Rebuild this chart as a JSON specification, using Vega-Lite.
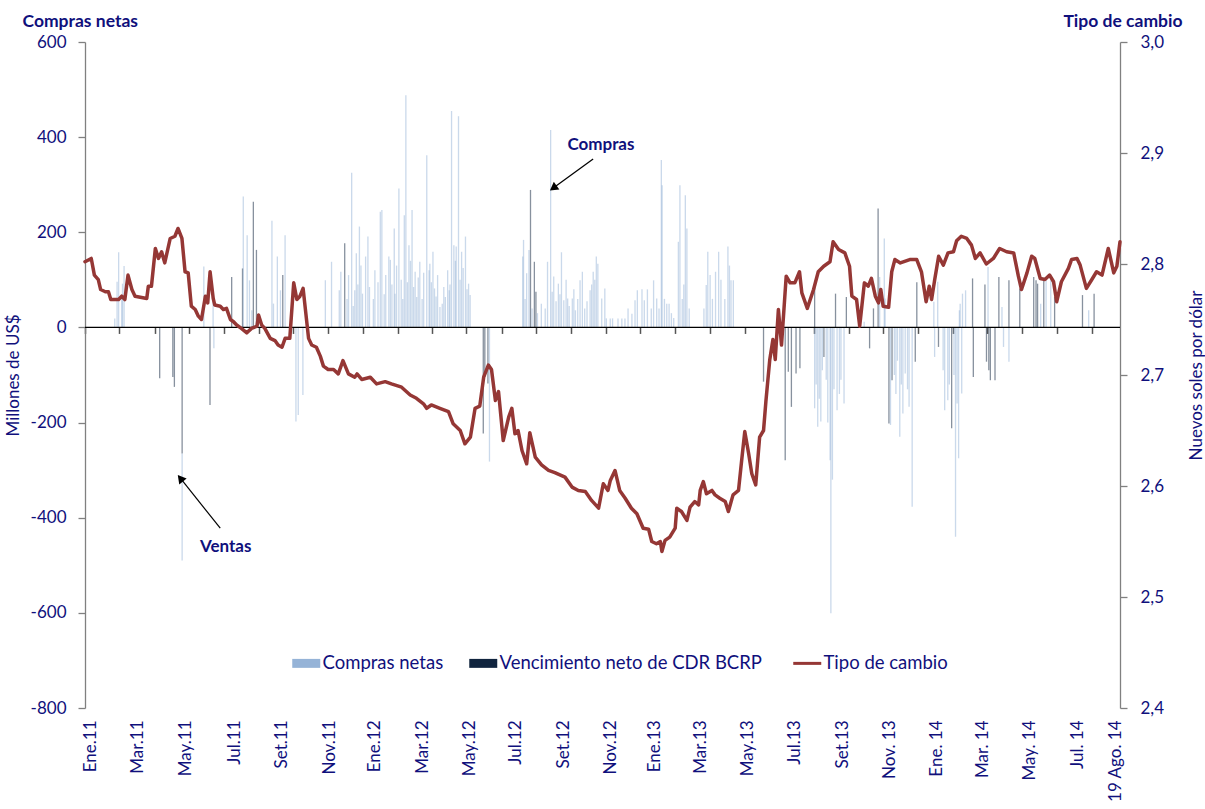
{
"$schema": "https://vega.github.io/schema/vega-lite/v6.json",
"width": 1035, "height": 666,
"autosize": {"type": "none"},
"padding": {"left": 85, "top": 42, "right": 85, "bottom": 101},
"background": "white",
"config": {"font": "Lato", "view": {"stroke": null}, "axis": {"grid": false, "labelFont": "Lato", "titleFont": "Lato"}},
"datasets": {
"rate": [
{"d":"2011-01-03","v":2.802},{"d":"2011-01-11","v":2.805},{"d":"2011-01-15","v":2.790},{"d":"2011-01-20","v":2.786},{"d":"2011-01-23","v":2.777},{"d":"2011-01-29","v":2.775},{"d":"2011-02-02","v":2.775},{"d":"2011-02-05","v":2.768},{"d":"2011-02-15","v":2.768},{"d":"2011-02-19","v":2.771},{"d":"2011-02-23","v":2.768},{"d":"2011-02-27","v":2.790},{"d":"2011-03-04","v":2.777},{"d":"2011-03-08","v":2.771},{"d":"2011-03-23","v":2.769},{"d":"2011-03-25","v":2.780},{"d":"2011-03-29","v":2.780},{"d":"2011-04-03","v":2.814},{"d":"2011-04-07","v":2.805},{"d":"2011-04-11","v":2.811},{"d":"2011-04-15","v":2.801},{"d":"2011-04-22","v":2.823},{"d":"2011-04-28","v":2.825},{"d":"2011-05-02","v":2.832},{"d":"2011-05-07","v":2.823},{"d":"2011-05-11","v":2.793},{"d":"2011-05-15","v":2.792},{"d":"2011-05-19","v":2.762},{"d":"2011-05-24","v":2.759},{"d":"2011-05-28","v":2.753},{"d":"2011-06-01","v":2.750},{"d":"2011-06-06","v":2.771},{"d":"2011-06-09","v":2.765},{"d":"2011-06-12","v":2.793},{"d":"2011-06-16","v":2.769},{"d":"2011-06-18","v":2.763},{"d":"2011-06-25","v":2.762},{"d":"2011-06-29","v":2.759},{"d":"2011-07-03","v":2.760},{"d":"2011-07-08","v":2.750},{"d":"2011-07-12","v":2.748},{"d":"2011-07-16","v":2.745},{"d":"2011-07-22","v":2.742},{"d":"2011-07-29","v":2.738},{"d":"2011-08-04","v":2.742},{"d":"2011-08-11","v":2.744},{"d":"2011-08-13","v":2.754},{"d":"2011-08-17","v":2.745},{"d":"2011-08-21","v":2.742},{"d":"2011-08-28","v":2.733},{"d":"2011-09-03","v":2.731},{"d":"2011-09-07","v":2.727},{"d":"2011-09-12","v":2.725},{"d":"2011-09-16","v":2.733},{"d":"2011-09-22","v":2.733},{"d":"2011-09-27","v":2.783},{"d":"2011-10-01","v":2.768},{"d":"2011-10-05","v":2.771},{"d":"2011-10-09","v":2.778},{"d":"2011-10-16","v":2.733},{"d":"2011-10-20","v":2.727},{"d":"2011-10-26","v":2.725},{"d":"2011-10-31","v":2.717},{"d":"2011-11-04","v":2.708},{"d":"2011-11-10","v":2.705},{"d":"2011-11-17","v":2.705},{"d":"2011-11-23","v":2.701},{"d":"2011-11-29","v":2.713},{"d":"2011-12-06","v":2.701},{"d":"2011-12-14","v":2.698},{"d":"2011-12-17","v":2.701},{"d":"2011-12-23","v":2.696},{"d":"2012-01-03","v":2.698},{"d":"2012-01-11","v":2.692},{"d":"2012-01-22","v":2.694},{"d":"2012-01-30","v":2.692},{"d":"2012-02-12","v":2.689},{"d":"2012-02-23","v":2.682},{"d":"2012-03-02","v":2.679},{"d":"2012-03-11","v":2.674},{"d":"2012-03-15","v":2.670},{"d":"2012-03-21","v":2.673},{"d":"2012-04-01","v":2.670},{"d":"2012-04-12","v":2.667},{"d":"2012-04-18","v":2.656},{"d":"2012-04-27","v":2.650},{"d":"2012-05-03","v":2.638},{"d":"2012-05-10","v":2.644},{"d":"2012-05-16","v":2.670},{"d":"2012-05-22","v":2.672},{"d":"2012-05-27","v":2.698},{"d":"2012-06-02","v":2.709},{"d":"2012-06-06","v":2.705},{"d":"2012-06-11","v":2.677},{"d":"2012-06-15","v":2.685},{"d":"2012-06-21","v":2.641},{"d":"2012-06-28","v":2.662},{"d":"2012-07-02","v":2.670},{"d":"2012-07-06","v":2.647},{"d":"2012-07-10","v":2.650},{"d":"2012-07-15","v":2.632},{"d":"2012-07-21","v":2.620},{"d":"2012-07-25","v":2.648},{"d":"2012-08-01","v":2.626},{"d":"2012-08-09","v":2.619},{"d":"2012-08-18","v":2.614},{"d":"2012-08-26","v":2.612},{"d":"2012-09-08","v":2.608},{"d":"2012-09-17","v":2.599},{"d":"2012-09-25","v":2.596},{"d":"2012-10-04","v":2.595},{"d":"2012-10-12","v":2.587},{"d":"2012-10-21","v":2.580},{"d":"2012-10-27","v":2.602},{"d":"2012-11-02","v":2.596},{"d":"2012-11-05","v":2.605},{"d":"2012-11-11","v":2.614},{"d":"2012-11-17","v":2.596},{"d":"2012-11-24","v":2.589},{"d":"2012-12-02","v":2.580},{"d":"2012-12-09","v":2.575},{"d":"2012-12-17","v":2.562},{"d":"2012-12-24","v":2.561},{"d":"2012-12-28","v":2.550},{"d":"2013-01-03","v":2.548},{"d":"2013-01-08","v":2.550},{"d":"2013-01-10","v":2.541},{"d":"2013-01-14","v":2.551},{"d":"2013-01-20","v":2.554},{"d":"2013-01-27","v":2.562},{"d":"2013-01-29","v":2.580},{"d":"2013-02-04","v":2.577},{"d":"2013-02-11","v":2.569},{"d":"2013-02-15","v":2.581},{"d":"2013-02-21","v":2.586},{"d":"2013-02-26","v":2.583},{"d":"2013-02-28","v":2.596},{"d":"2013-03-04","v":2.604},{"d":"2013-03-08","v":2.593},{"d":"2013-03-15","v":2.596},{"d":"2013-03-19","v":2.592},{"d":"2013-03-25","v":2.589},{"d":"2013-04-01","v":2.586},{"d":"2013-04-05","v":2.577},{"d":"2013-04-11","v":2.592},{"d":"2013-04-18","v":2.596},{"d":"2013-04-22","v":2.623},{"d":"2013-04-26","v":2.649},{"d":"2013-05-01","v":2.629},{"d":"2013-05-05","v":2.611},{"d":"2013-05-10","v":2.601},{"d":"2013-05-15","v":2.644},{"d":"2013-05-20","v":2.650},{"d":"2013-05-23","v":2.676},{"d":"2013-05-28","v":2.714},{"d":"2013-06-01","v":2.732},{"d":"2013-06-04","v":2.714},{"d":"2013-06-08","v":2.759},{"d":"2013-06-12","v":2.727},{"d":"2013-06-18","v":2.789},{"d":"2013-06-23","v":2.783},{"d":"2013-06-29","v":2.783},{"d":"2013-07-05","v":2.793},{"d":"2013-07-08","v":2.774},{"d":"2013-07-15","v":2.760},{"d":"2013-07-23","v":2.777},{"d":"2013-07-29","v":2.793},{"d":"2013-08-05","v":2.798},{"d":"2013-08-13","v":2.802},{"d":"2013-08-17","v":2.820},{"d":"2013-08-24","v":2.813},{"d":"2013-09-01","v":2.810},{"d":"2013-09-07","v":2.798},{"d":"2013-09-10","v":2.771},{"d":"2013-09-16","v":2.768},{"d":"2013-09-20","v":2.744},{"d":"2013-09-26","v":2.783},{"d":"2013-10-01","v":2.780},{"d":"2013-10-05","v":2.787},{"d":"2013-10-10","v":2.771},{"d":"2013-10-14","v":2.765},{"d":"2013-10-17","v":2.777},{"d":"2013-10-20","v":2.762},{"d":"2013-10-27","v":2.761},{"d":"2013-10-31","v":2.793},{"d":"2013-11-04","v":2.804},{"d":"2013-11-11","v":2.801},{"d":"2013-11-23","v":2.804},{"d":"2013-12-02","v":2.804},{"d":"2013-12-08","v":2.793},{"d":"2013-12-14","v":2.766},{"d":"2013-12-18","v":2.780},{"d":"2013-12-21","v":2.768},{"d":"2013-12-25","v":2.786},{"d":"2013-12-30","v":2.807},{"d":"2014-01-05","v":2.799},{"d":"2014-01-11","v":2.810},{"d":"2014-01-18","v":2.811},{"d":"2014-01-22","v":2.821},{"d":"2014-01-28","v":2.825},{"d":"2014-02-04","v":2.823},{"d":"2014-02-10","v":2.817},{"d":"2014-02-15","v":2.805},{"d":"2014-02-21","v":2.810},{"d":"2014-03-01","v":2.800},{"d":"2014-03-10","v":2.805},{"d":"2014-03-18","v":2.814},{"d":"2014-03-27","v":2.811},{"d":"2014-04-05","v":2.810},{"d":"2014-04-11","v":2.789},{"d":"2014-04-15","v":2.777},{"d":"2014-04-22","v":2.792},{"d":"2014-04-28","v":2.807},{"d":"2014-05-02","v":2.805},{"d":"2014-05-09","v":2.787},{"d":"2014-05-15","v":2.786},{"d":"2014-05-21","v":2.790},{"d":"2014-05-26","v":2.784},{"d":"2014-05-30","v":2.766},{"d":"2014-06-05","v":2.784},{"d":"2014-06-14","v":2.796},{"d":"2014-06-18","v":2.804},{"d":"2014-06-25","v":2.805},{"d":"2014-06-29","v":2.799},{"d":"2014-07-07","v":2.778},{"d":"2014-07-14","v":2.786},{"d":"2014-07-20","v":2.793},{"d":"2014-07-27","v":2.790},{"d":"2014-08-04","v":2.814},{"d":"2014-08-11","v":2.792},{"d":"2014-08-15","v":2.798},{"d":"2014-08-19","v":2.820}
],
"bars": [
{"d":"2011-02-04","s":"Compras netas","v":19},{"d":"2011-02-07","s":"Compras netas","v":96},{"d":"2011-02-09","s":"Compras netas","v":158},{"d":"2011-02-13","s":"Compras netas","v":64},{"d":"2011-02-14","s":"Compras netas","v":92},{"d":"2011-02-16","s":"Compras netas","v":129},
{"d":"2011-04-03","s":"Vencimiento neto de CDR BCRP","v":-107},{"d":"2011-04-20","s":"Vencimiento neto de CDR BCRP","v":-104},{"d":"2011-04-22","s":"Vencimiento neto de CDR BCRP","v":-125},{"d":"2011-05-02","s":"Vencimiento neto de CDR BCRP","v":-265},{"d":"2011-05-02","s":"Compras netas","v":-225},
{"d":"2011-05-30","s":"Compras netas","v":128},{"d":"2011-06-07","s":"Vencimiento neto de CDR BCRP","v":-163},{"d":"2011-06-11","s":"Compras netas","v":78},{"d":"2011-06-12","s":"Compras netas","v":-44},
{"d":"2011-07-05","s":"Vencimiento neto de CDR BCRP","v":106},{"d":"2011-07-19","s":"Vencimiento neto de CDR BCRP","v":124},{"d":"2011-07-20","s":"Compras netas","v":275},{"d":"2011-07-25","s":"Compras netas","v":194},{"d":"2011-07-28","s":"Compras netas","v":99},{"d":"2011-07-31","s":"Compras netas","v":36},{"d":"2011-08-02","s":"Vencimiento neto de CDR BCRP","v":264},{"d":"2011-08-06","s":"Vencimiento neto de CDR BCRP","v":163},{"d":"2011-08-12","s":"Compras netas","v":15},{"d":"2011-08-26","s":"Compras netas","v":224},{"d":"2011-08-28","s":"Compras netas","v":50},{"d":"2011-09-02","s":"Compras netas","v":149},{"d":"2011-09-06","s":"Compras netas","v":78},{"d":"2011-09-09","s":"Vencimiento neto de CDR BCRP","v":110},{"d":"2011-09-12","s":"Compras netas","v":194},
{"d":"2011-09-26","s":"Compras netas","v":-198},{"d":"2011-09-29","s":"Compras netas","v":-184},{"d":"2011-10-05","s":"Compras netas","v":-142},
{"d":"2011-11-03","s":"Compras netas","v":99},{"d":"2011-11-11","s":"Compras netas","v":138},{"d":"2011-11-21","s":"Compras netas","v":78},{"d":"2011-11-23","s":"Compras netas","v":117},{"d":"2011-11-28","s":"Vencimiento neto de CDR BCRP","v":177},{"d":"2011-12-01","s":"Compras netas","v":60},{"d":"2011-12-03","s":"Compras netas","v":110},{"d":"2011-12-07","s":"Compras netas","v":325},{"d":"2011-12-09","s":"Compras netas","v":45},{"d":"2011-12-11","s":"Compras netas","v":78},{"d":"2011-12-13","s":"Compras netas","v":156},{"d":"2011-12-15","s":"Compras netas","v":90},{"d":"2011-12-17","s":"Compras netas","v":212},{"d":"2011-12-19","s":"Compras netas","v":130},{"d":"2011-12-21","s":"Compras netas","v":71},{"d":"2011-12-25","s":"Compras netas","v":149},{"d":"2011-12-28","s":"Compras netas","v":191},{"d":"2011-12-30","s":"Compras netas","v":85},
{"d":"2012-01-04","s":"Compras netas","v":60},{"d":"2012-01-06","s":"Compras netas","v":120},{"d":"2012-01-10","s":"Compras netas","v":95},{"d":"2012-01-13","s":"Compras netas","v":243},{"d":"2012-01-15","s":"Compras netas","v":247},{"d":"2012-01-18","s":"Compras netas","v":70},{"d":"2012-01-20","s":"Compras netas","v":110},{"d":"2012-01-24","s":"Compras netas","v":149},{"d":"2012-01-26","s":"Compras netas","v":142},{"d":"2012-01-28","s":"Compras netas","v":90},{"d":"2012-01-31","s":"Compras netas","v":208},{"d":"2012-02-01","s":"Compras netas","v":71},{"d":"2012-02-03","s":"Compras netas","v":130},{"d":"2012-02-06","s":"Compras netas","v":292},{"d":"2012-02-09","s":"Compras netas","v":100},{"d":"2012-02-11","s":"Compras netas","v":60},{"d":"2012-02-13","s":"Compras netas","v":236},{"d":"2012-02-15","s":"Compras netas","v":488},{"d":"2012-02-17","s":"Compras netas","v":95},{"d":"2012-02-19","s":"Compras netas","v":173},{"d":"2012-02-21","s":"Compras netas","v":140},{"d":"2012-02-23","s":"Compras netas","v":247},{"d":"2012-02-25","s":"Compras netas","v":85},{"d":"2012-02-27","s":"Compras netas","v":117},{"d":"2012-02-29","s":"Compras netas","v":64},{"d":"2012-03-02","s":"Compras netas","v":105},{"d":"2012-03-04","s":"Compras netas","v":138},{"d":"2012-03-07","s":"Compras netas","v":60},{"d":"2012-03-09","s":"Compras netas","v":115},{"d":"2012-03-13","s":"Compras netas","v":362},{"d":"2012-03-16","s":"Compras netas","v":120},{"d":"2012-03-17","s":"Compras netas","v":134},{"d":"2012-03-19","s":"Compras netas","v":95},{"d":"2012-03-21","s":"Compras netas","v":159},{"d":"2012-03-23","s":"Compras netas","v":82},{"d":"2012-03-25","s":"Compras netas","v":65},{"d":"2012-03-27","s":"Compras netas","v":110},{"d":"2012-03-30","s":"Compras netas","v":43},{"d":"2012-04-02","s":"Compras netas","v":50},{"d":"2012-04-04","s":"Compras netas","v":85},{"d":"2012-04-06","s":"Compras netas","v":64},{"d":"2012-04-09","s":"Compras netas","v":120},{"d":"2012-04-11","s":"Compras netas","v":78},{"d":"2012-04-12","s":"Compras netas","v":90},{"d":"2012-04-14","s":"Compras netas","v":455},{"d":"2012-04-17","s":"Compras netas","v":173},{"d":"2012-04-19","s":"Compras netas","v":140},{"d":"2012-04-20","s":"Compras netas","v":170},{"d":"2012-04-23","s":"Compras netas","v":444},{"d":"2012-04-25","s":"Compras netas","v":100},{"d":"2012-04-27","s":"Compras netas","v":159},{"d":"2012-04-29","s":"Compras netas","v":125},{"d":"2012-05-02","s":"Compras netas","v":191},{"d":"2012-05-04","s":"Compras netas","v":80},{"d":"2012-05-06","s":"Compras netas","v":92},{"d":"2012-05-08","s":"Compras netas","v":68},
{"d":"2012-05-25","s":"Vencimiento neto de CDR BCRP","v":-223},{"d":"2012-05-27","s":"Vencimiento neto de CDR BCRP","v":-104},{"d":"2012-05-31","s":"Vencimiento neto de CDR BCRP","v":-118},{"d":"2012-06-02","s":"Compras netas","v":-282},
{"d":"2012-07-15","s":"Compras netas","v":149},{"d":"2012-07-16","s":"Compras netas","v":184},{"d":"2012-07-18","s":"Compras netas","v":60},{"d":"2012-07-20","s":"Compras netas","v":114},{"d":"2012-07-23","s":"Compras netas","v":163},{"d":"2012-07-25","s":"Vencimiento neto de CDR BCRP","v":289},{"d":"2012-07-27","s":"Compras netas","v":40},{"d":"2012-07-30","s":"Vencimiento neto de CDR BCRP","v":138},{"d":"2012-08-01","s":"Vencimiento neto de CDR BCRP","v":75},{"d":"2012-08-03","s":"Compras netas","v":30},{"d":"2012-08-08","s":"Compras netas","v":50},{"d":"2012-08-13","s":"Compras netas","v":40},{"d":"2012-08-16","s":"Compras netas","v":138},{"d":"2012-08-20","s":"Compras netas","v":415},{"d":"2012-08-22","s":"Compras netas","v":75},{"d":"2012-08-24","s":"Compras netas","v":107},{"d":"2012-08-27","s":"Compras netas","v":55},{"d":"2012-08-30","s":"Compras netas","v":92},{"d":"2012-09-01","s":"Compras netas","v":70},{"d":"2012-09-03","s":"Compras netas","v":158},{"d":"2012-09-06","s":"Compras netas","v":57},{"d":"2012-09-09","s":"Compras netas","v":100},{"d":"2012-09-11","s":"Compras netas","v":61},{"d":"2012-09-13","s":"Compras netas","v":45},{"d":"2012-09-17","s":"Compras netas","v":61},{"d":"2012-09-19","s":"Compras netas","v":80},{"d":"2012-09-21","s":"Compras netas","v":36},{"d":"2012-09-24","s":"Compras netas","v":60},{"d":"2012-09-27","s":"Compras netas","v":99},{"d":"2012-09-30","s":"Compras netas","v":117},{"d":"2012-10-03","s":"Compras netas","v":40},{"d":"2012-10-06","s":"Compras netas","v":55},{"d":"2012-10-10","s":"Compras netas","v":78},{"d":"2012-10-12","s":"Compras netas","v":90},{"d":"2012-10-14","s":"Compras netas","v":117},{"d":"2012-10-16","s":"Compras netas","v":100},{"d":"2012-10-18","s":"Compras netas","v":149},{"d":"2012-10-20","s":"Compras netas","v":134},{"d":"2012-10-25","s":"Compras netas","v":61},{"d":"2012-10-29","s":"Compras netas","v":82},{"d":"2012-10-31","s":"Compras netas","v":19},{"d":"2012-11-05","s":"Compras netas","v":19},{"d":"2012-11-08","s":"Compras netas","v":19},{"d":"2012-11-15","s":"Compras netas","v":19},{"d":"2012-11-20","s":"Compras netas","v":19},{"d":"2012-11-24","s":"Compras netas","v":19},{"d":"2012-11-28","s":"Compras netas","v":40},{"d":"2012-12-03","s":"Compras netas","v":29},{"d":"2012-12-07","s":"Compras netas","v":57},{"d":"2012-12-10","s":"Compras netas","v":78},{"d":"2012-12-16","s":"Compras netas","v":80},{"d":"2012-12-19","s":"Compras netas","v":57},{"d":"2012-12-23","s":"Compras netas","v":80},{"d":"2012-12-28","s":"Compras netas","v":40},{"d":"2012-12-31","s":"Compras netas","v":99},{"d":"2013-01-04","s":"Compras netas","v":61},{"d":"2013-01-07","s":"Compras netas","v":40},{"d":"2013-01-10","s":"Compras netas","v":352},{"d":"2013-01-11","s":"Compras netas","v":299},{"d":"2013-01-14","s":"Compras netas","v":60},{"d":"2013-01-17","s":"Compras netas","v":50},{"d":"2013-01-20","s":"Compras netas","v":50},{"d":"2013-01-23","s":"Compras netas","v":30},{"d":"2013-01-26","s":"Compras netas","v":20},{"d":"2013-02-01","s":"Compras netas","v":180},{"d":"2013-02-03","s":"Compras netas","v":299},{"d":"2013-02-06","s":"Compras netas","v":60},{"d":"2013-02-08","s":"Compras netas","v":90},{"d":"2013-02-10","s":"Compras netas","v":278},{"d":"2013-02-12","s":"Compras netas","v":208},{"d":"2013-02-15","s":"Compras netas","v":40},{"d":"2013-03-06","s":"Compras netas","v":40},{"d":"2013-03-09","s":"Compras netas","v":89},{"d":"2013-03-11","s":"Compras netas","v":159},{"d":"2013-03-14","s":"Compras netas","v":110},{"d":"2013-03-17","s":"Compras netas","v":60},{"d":"2013-03-21","s":"Compras netas","v":117},{"d":"2013-03-25","s":"Compras netas","v":159},{"d":"2013-03-28","s":"Compras netas","v":100},{"d":"2013-04-02","s":"Compras netas","v":60},{"d":"2013-04-06","s":"Compras netas","v":170},{"d":"2013-04-08","s":"Compras netas","v":130},{"d":"2013-04-10","s":"Compras netas","v":99},{"d":"2013-04-13","s":"Compras netas","v":99},
{"d":"2013-05-22","s":"Vencimiento neto de CDR BCRP","v":-114},{"d":"2013-06-19","s":"Vencimiento neto de CDR BCRP","v":-279},{"d":"2013-06-23","s":"Vencimiento neto de CDR BCRP","v":-93},{"d":"2013-06-27","s":"Vencimiento neto de CDR BCRP","v":-167},{"d":"2013-07-03","s":"Vencimiento neto de CDR BCRP","v":-97},{"d":"2013-07-08","s":"Vencimiento neto de CDR BCRP","v":-86},{"d":"2013-07-27","s":"Compras netas","v":-170},{"d":"2013-07-27","s":"Vencimiento neto de CDR BCRP","v":87},{"d":"2013-07-29","s":"Compras netas","v":-120},{"d":"2013-07-31","s":"Compras netas","v":-209},{"d":"2013-08-02","s":"Compras netas","v":-150},{"d":"2013-08-04","s":"Compras netas","v":-198},{"d":"2013-08-06","s":"Compras netas","v":-90},{"d":"2013-08-08","s":"Vencimiento neto de CDR BCRP","v":-62},{"d":"2013-08-11","s":"Compras netas","v":-110},{"d":"2013-08-13","s":"Compras netas","v":-200},{"d":"2013-08-16","s":"Compras netas","v":-279},{"d":"2013-08-17","s":"Compras netas","v":-601},{"d":"2013-08-19","s":"Compras netas","v":-320},{"d":"2013-08-21","s":"Compras netas","v":-130},{"d":"2013-08-23","s":"Vencimiento neto de CDR BCRP","v":71},{"d":"2013-08-25","s":"Compras netas","v":-174},{"d":"2013-08-28","s":"Compras netas","v":-140},{"d":"2013-08-30","s":"Compras netas","v":-110},{"d":"2013-09-03","s":"Compras netas","v":-160},{"d":"2013-09-06","s":"Vencimiento neto de CDR BCRP","v":64},{"d":"2013-09-29","s":"Compras netas","v":12},{"d":"2013-10-06","s":"Vencimiento neto de CDR BCRP","v":-44},{"d":"2013-10-11","s":"Vencimiento neto de CDR BCRP","v":40},{"d":"2013-10-17","s":"Vencimiento neto de CDR BCRP","v":250},{"d":"2013-10-19","s":"Compras netas","v":106},{"d":"2013-10-25","s":"Compras netas","v":187},{"d":"2013-10-26","s":"Compras netas","v":61},{"d":"2013-10-31","s":"Vencimiento neto de CDR BCRP","v":-202},{"d":"2013-11-02","s":"Compras netas","v":-205},{"d":"2013-11-04","s":"Vencimiento neto de CDR BCRP","v":-111},{"d":"2013-11-07","s":"Compras netas","v":-100},{"d":"2013-11-09","s":"Compras netas","v":-140},{"d":"2013-11-11","s":"Compras netas","v":-70},{"d":"2013-11-14","s":"Compras netas","v":-230},{"d":"2013-11-16","s":"Compras netas","v":-120},{"d":"2013-11-18","s":"Compras netas","v":-181},{"d":"2013-11-21","s":"Compras netas","v":-97},{"d":"2013-11-24","s":"Compras netas","v":-130},{"d":"2013-11-26","s":"Compras netas","v":-167},{"d":"2013-11-30","s":"Compras netas","v":-377},{"d":"2013-12-04","s":"Vencimiento neto de CDR BCRP","v":-72},{"d":"2013-12-06","s":"Vencimiento neto de CDR BCRP","v":95},{"d":"2013-12-28","s":"Compras netas","v":54},{"d":"2013-12-29","s":"Compras netas","v":-62},{"d":"2014-01-02","s":"Compras netas","v":96},{"d":"2014-01-03","s":"Vencimiento neto de CDR BCRP","v":-41},{"d":"2014-01-09","s":"Compras netas","v":-90},{"d":"2014-01-11","s":"Compras netas","v":-174},{"d":"2014-01-15","s":"Compras netas","v":-153},{"d":"2014-01-17","s":"Compras netas","v":-120},{"d":"2014-01-20","s":"Vencimiento neto de CDR BCRP","v":-212},{"d":"2014-01-23","s":"Compras netas","v":-100},{"d":"2014-01-25","s":"Compras netas","v":-440},{"d":"2014-01-27","s":"Compras netas","v":-160},{"d":"2014-01-29","s":"Compras netas","v":-275},{"d":"2014-01-30","s":"Compras netas","v":36},{"d":"2014-01-31","s":"Compras netas","v":50},{"d":"2014-02-02","s":"Compras netas","v":-139},{"d":"2014-02-03","s":"Compras netas","v":71},{"d":"2014-02-07","s":"Compras netas","v":78},{"d":"2014-02-16","s":"Vencimiento neto de CDR BCRP","v":103},{"d":"2014-02-17","s":"Vencimiento neto de CDR BCRP","v":-104},{"d":"2014-03-04","s":"Vencimiento neto de CDR BCRP","v":90},{"d":"2014-03-06","s":"Vencimiento neto de CDR BCRP","v":-72},{"d":"2014-03-08","s":"Compras netas","v":127},{"d":"2014-03-09","s":"Vencimiento neto de CDR BCRP","v":-90},{"d":"2014-03-11","s":"Vencimiento neto de CDR BCRP","v":-111},{"d":"2014-03-17","s":"Vencimiento neto de CDR BCRP","v":-111},{"d":"2014-03-22","s":"Vencimiento neto de CDR BCRP","v":106},{"d":"2014-03-26","s":"Compras netas","v":43},{"d":"2014-03-28","s":"Compras netas","v":-41},{"d":"2014-04-04","s":"Vencimiento neto de CDR BCRP","v":99},{"d":"2014-04-04","s":"Compras netas","v":-72},{"d":"2014-04-18","s":"Vencimiento neto de CDR BCRP","v":82},{"d":"2014-05-06","s":"Vencimiento neto de CDR BCRP","v":106},{"d":"2014-05-09","s":"Vencimiento neto de CDR BCRP","v":99},{"d":"2014-05-11","s":"Vencimiento neto de CDR BCRP","v":92},{"d":"2014-05-15","s":"Compras netas","v":50},{"d":"2014-05-19","s":"Vencimiento neto de CDR BCRP","v":99},{"d":"2014-05-22","s":"Compras netas","v":99},{"d":"2014-05-28","s":"Compras netas","v":99},{"d":"2014-06-02","s":"Vencimiento neto de CDR BCRP","v":64},{"d":"2014-07-08","s":"Vencimiento neto de CDR BCRP","v":68},{"d":"2014-07-16","s":"Compras netas","v":36},{"d":"2014-07-23","s":"Vencimiento neto de CDR BCRP","v":71}
],
"notes": [{"t":"Compras","d":"2012-10-24","v":383},{"t":"Ventas","d":"2011-07-02","v":-461}],
"arrows": [{"t":"Compras","d":"2012-10-14","v":354,"d2":"2012-08-24","v2":293},{"t":"Ventas","d":"2011-06-25","v":-422,"d2":"2011-05-05","v2":-317}]
},
"layer": [
{
"data": {"name": "bars"},
"mark": {"type": "bar", "size": 1.3, "opacity": 0.5},
"encoding": {
"x": {"field": "d", "type": "temporal", "scale": {"domain": [{"year":2011,"month":1,"date":3},{"year":2014,"month":8,"date":19}]},
 "axis": {"orient": "bottom", "title": null, "ticks": false, "domain": false, "grid": false, "labelAngle": 270, "labelAlign": "right", "labelBaseline": "middle", "labelPadding": 12, "labelFontSize": 17, "labelColor": "#10107c", "labelOverlap": false, "labelFlush": false, "labelBound": false,
 "values": [{"year":2011,"month":1,"date":3},{"year":2011,"month":3,"date":5},{"year":2011,"month":5,"date":7},{"year":2011,"month":7,"date":9},{"year":2011,"month":9,"date":7},{"year":2011,"month":11,"date":8},{"year":2012,"month":1,"date":5},{"year":2012,"month":3,"date":7},{"year":2012,"month":5,"date":7},{"year":2012,"month":7,"date":6},{"year":2012,"month":9,"date":6},{"year":2012,"month":11,"date":5},{"year":2013,"month":1,"date":1},{"year":2013,"month":3,"date":1},{"year":2013,"month":5,"date":1},{"year":2013,"month":7,"date":1},{"year":2013,"month":9,"date":1},{"year":2013,"month":11,"date":1},{"year":2014,"month":1,"date":1},{"year":2014,"month":3,"date":1},{"year":2014,"month":5,"date":1},{"year":2014,"month":7,"date":2},{"year":2014,"month":8,"date":19}],
 "labelExpr": "timeFormat(datum.value, '%m-%d') == '08-19' ? '19 Ago. 14' : ['Ene','Feb','Mar','Abr','May','Jun','Jul','Ago','Set','Oct','Nov','Dic'][month(datum.value)] + (datum.value >= datetime(2013, 9, 15) ? '. ' : '.') + timeFormat(datum.value, '%y')"}},
"y": {"field": "v", "type": "quantitative", "stack": "zero", "scale": {"domain": [-800, 600], "nice": false},
 "axis": {"orient": "left", "title": "Millones de US$", "values": [-800,-600,-400,-200,0,200,400,600], "labelExpr": "'' + datum.value", "domainColor": "#808080", "domainWidth": 1.3, "tickColor": "#808080", "tickSize": 7, "tickWidth": 1.3, "labelFontSize": 17, "labelColor": "#10107c", "labelPadding": 12, "titleFontSize": 17, "titleFontWeight": "normal", "titleColor": "#10107c", "titlePadding": 8, "grid": false}},
"color": {"field": "s", "type": "nominal",
 "scale": {"domain": ["Compras netas", "Vencimiento neto de CDR BCRP", "Tipo de cambio"], "range": ["#95b3d7", "#10243e", "#953735"]},
 "legend": {"orient": "none", "legendX": 212, "legendY": 612, "direction": "horizontal", "title": null, "labelFont": "Lato", "labelFontSize": 18.5, "labelColor": "#10107c", "labelOffset": 7, "columnPadding": 25, "symbolSize": 784, "padding": 0, "labelLimit": 400,
  "symbolType": {"expr": "datum.value === 'Tipo de cambio' ? 'M-1,0H1' : 'M-1,-0.32H1V0.32H-1Z'"},
  "symbolStrokeWidth": {"expr": "datum.value === 'Tipo de cambio' ? 3 : 0"},
  "symbolStrokeColor": {"expr": "scale('color', datum.value)"},
  "symbolFillColor": {"expr": "scale('color', datum.value)"},
  "symbolOpacity": 1}},
"order": {"field": "s", "sort": "descending"}
}
},
{
"layer": [
 {"data": {"name": "arrows"}, "mark": {"type": "rule", "color": "black", "strokeWidth": 1.2},
  "encoding": {"x": {"field": "d", "type": "temporal", "title": null}, "x2": {"field": "d2"}, "y": {"field": "v", "type": "quantitative", "title": null}, "y2": {"field": "v2"}}},
 {"data": {"name": "arrows"}, "transform": [{"filter": "datum.t == 'Compras'"}], "mark": {"type": "point", "shape": "triangle-up", "filled": true, "color": "black", "opacity": 1, "size": 90, "angle": 234},
  "encoding": {"x": {"field": "d2", "type": "temporal", "title": null}, "y": {"field": "v2", "type": "quantitative", "title": null}}},
 {"data": {"name": "arrows"}, "transform": [{"filter": "datum.t == 'Ventas'"}], "mark": {"type": "point", "shape": "triangle-up", "filled": true, "color": "black", "opacity": 1, "size": 90, "angle": 321},
  "encoding": {"x": {"field": "d2", "type": "temporal", "title": null}, "y": {"field": "v2", "type": "quantitative", "title": null}}},
 {"data": {"name": "notes"}, "mark": {"type": "text", "font": "Lato", "fontSize": 17, "fontWeight": "bold", "color": "#10107c"},
  "encoding": {"x": {"field": "d", "type": "temporal", "title": null}, "y": {"field": "v", "type": "quantitative", "title": null}, "text": {"field": "t"}}}
],
"encoding": {
 "x": {"scale": {"domain": [{"year":2011,"month":1,"date":3},{"year":2014,"month":8,"date":19}]}, "axis": {"orient": "top", "labels": false, "ticks": false, "domain": false, "grid": false, "title": "Compras netas", "titleFont": "Lato", "titleFontSize": 17.5, "titleFontWeight": "bold", "titleColor": "#10107c", "titleX": -63, "titleY": -16, "titleAlign": "left", "titleBaseline": "alphabetic", "titleAnchor": "start"}},
 "y": {"scale": {"domain": [-800, 600], "nice": false}, "axis": null}
}
},
{
"data": {"values": [{}]},
"mark": {"type": "rule", "color": "black", "strokeWidth": 1.3},
"encoding": {
 "x": {"datum": {"year":2011,"month":1,"date":3}, "type": "temporal", "scale": {"domain": [{"year":2011,"month":1,"date":3},{"year":2014,"month":8,"date":19}]},
  "axis": {"orient": "top", "labels": false, "ticks": false, "domain": false, "grid": false, "title": "Tipo de cambio", "titleFont": "Lato", "titleFontSize": 17.5, "titleFontWeight": "bold", "titleColor": "#10107c", "titleX": 1097, "titleY": -16, "titleAlign": "right", "titleBaseline": "alphabetic", "titleAnchor": "end"}},
 "x2": {"datum": {"year":2014,"month":8,"date":19}},
 "y": {"datum": 0, "type": "quantitative", "scale": {"domain": [-800, 600], "nice": false}, "axis": null}
}
},
{
"data": {"name": "rate"},
"mark": {"type": "line", "strokeWidth": 3.5, "strokeJoin": "round", "strokeCap": "round"},
"encoding": {
 "x": {"field": "d", "type": "temporal", "scale": {"domain": [{"year":2011,"month":1,"date":3},{"year":2014,"month":8,"date":19}]},
  "axis": {"orient": "bottom", "offset": -380.57, "title": null, "labels": false, "domain": false, "grid": false, "ticks": true, "tickSize": 6, "tickColor": "#555555", "tickWidth": 1.5,
  "values": [{"year":2011,"month":1,"date":3},{"year":2011,"month":2,"date":16},{"year":2011,"month":4,"date":2},{"year":2011,"month":5,"date":16},{"year":2011,"month":6,"date":30},{"year":2011,"month":8,"date":13},{"year":2011,"month":9,"date":26},{"year":2011,"month":11,"date":10},{"year":2011,"month":12,"date":24},{"year":2012,"month":2,"date":7},{"year":2012,"month":3,"date":22},{"year":2012,"month":5,"date":5},{"year":2012,"month":6,"date":19},{"year":2012,"month":8,"date":2},{"year":2012,"month":9,"date":16},{"year":2012,"month":10,"date":30},{"year":2012,"month":12,"date":13},{"year":2013,"month":1,"date":27},{"year":2013,"month":3,"date":12},{"year":2013,"month":4,"date":26},{"year":2013,"month":6,"date":9},{"year":2013,"month":7,"date":23},{"year":2013,"month":9,"date":6},{"year":2013,"month":10,"date":20},{"year":2013,"month":12,"date":4},{"year":2014,"month":1,"date":17},{"year":2014,"month":3,"date":2},{"year":2014,"month":4,"date":16},{"year":2014,"month":5,"date":30},{"year":2014,"month":7,"date":14}]}},
 "y": {"field": "v", "type": "quantitative", "scale": {"domain": [2.4, 3.0], "zero": false, "nice": false},
  "axis": {"orient": "right", "title": "Nuevos soles por dólar", "values": [2.4, 2.5, 2.6, 2.7, 2.8, 2.9, 3.0], "labelExpr": "replace(format(datum.value, '.1f'), '.', ',')", "domainColor": "#808080", "domainWidth": 1.3, "tickColor": "#808080", "tickSize": 7, "tickWidth": 1.3, "labelFontSize": 17, "labelColor": "#10107c", "labelPadding": 13, "titleAngle": 270, "titleFontSize": 17, "titleFontWeight": "normal", "titleColor": "#10107c", "titlePadding": 42, "grid": false}},
 "color": {"datum": "Tipo de cambio", "type": "nominal"}
}
}
],
"resolve": {"scale": {"x": "independent", "y": "independent"}, "axis": {"x": "independent", "y": "independent"}}
}
